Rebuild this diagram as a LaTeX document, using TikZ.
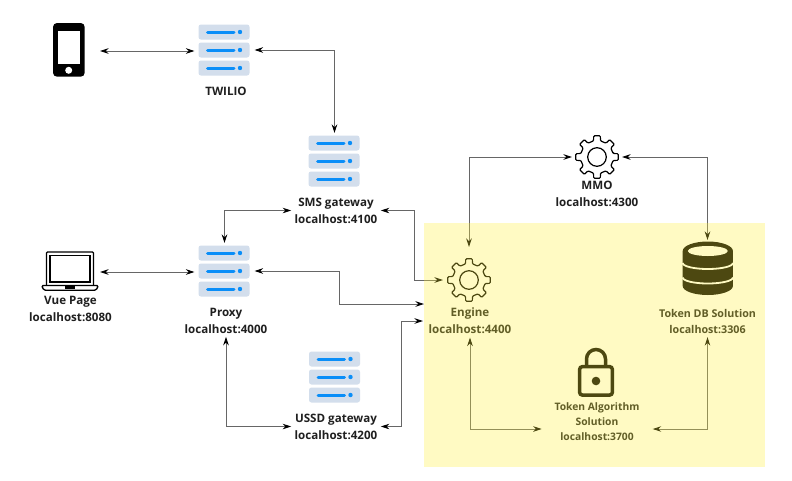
\documentclass[tikz,border=0pt]{standalone}
\usepackage{fontspec}
\setmainfont{Open Sans}
\usetikzlibrary{arrows.meta}
\definecolor{rackgrey}{HTML}{D3DEEC}
\definecolor{rackblue}{HTML}{0A8EF8}
\definecolor{zoneyellow}{RGB}{255,241,58}
\tikzset{
  pics/server/.style={
    code = {
        \foreach \r in {-18, 0, 18} {
            \fill [rackgrey, rounded corners=2.5pt] (-25.5, \r-7.5) rectangle (25.5, \r+7.5);
            \draw [rackblue, line width=3pt, line cap=round] (-16.5, \r) -- (10, \r);
            \fill [rackblue] (16, \r) circle (2.2);
        }
    }
  },
  pics/gear/.style={
    code = {
        \draw [line width=1.2pt, fill=white, rounded corners=1pt] (-12:16.5)
            \foreach \a in {0, 45, ..., 315} {
                -- (\a-12:16.5) -- (\a-9:21.5) -- (\a+9:21.5) -- (\a+12:16.5)
            } -- cycle;
        \draw [line width=1.2pt] (0, 0) circle (9.3);
    }
  },
  iconbox/.style={minimum width=#1, inner sep=0pt, outer sep=0pt},
  iconbox/.default=60pt,
  tag/.style={font=\fontsize{11.6}{17}\selectfont\bfseries, align=center, text=black!88},
  tagsmall/.style={font=\fontsize{10.3}{15}\selectfont\bfseries, align=center, text=black!88},
  link/.style={black!60, line width=0.9pt, {Stealth[length=8.5pt,width=5.5pt,black]}-{Stealth[length=8.5pt,width=5.5pt,black]}}
}

\begin{document}
\begin{tikzpicture}[x=1pt, y=-1pt]
            \useasboundingbox (0,0) rectangle (792,480);
            \fill [white] (0,0) rectangle (792,480);

            \node (phone) [iconbox=32pt, minimum height=54pt] at (69,50) {};
            \fill [black, rounded corners=4pt] (53,23) rectangle (84.7,76.7);
            \fill [white] (57.7,30.7) rectangle (80,64.3);
            \fill [white] (68.7,70.3) circle (3.5);
            \coordinate (phoneend) at (100,51);

            \node (laptop) [iconbox=58pt, minimum height=40pt] at (70,271) {};
            \draw [line width=1.3pt, rounded corners=1pt] (46.5,285) -- (46.5,252) -- (93.5,252) -- (93.5,285);
            \draw [line width=1.3pt] (50,255.5) rectangle (90,282);
            \draw [line width=1.3pt, rounded corners=1.5pt] (41.5,285.5) -- (98.5,285.5) -- (96,290.3) -- (44,290.3) -- cycle;
            \fill [black] (65,285.5) rectangle (75,289);
            \coordinate (laptopend) at (100,272);

            \pic at (224,50) {server};
            \node (twilio) [iconbox, minimum height=56pt] at (224.5,50) {};
            \node (twiliotag) [tag] at (226,91.5) {TWILIO};

            \pic at (334,161) {server};
            \node (sms) [iconbox, minimum height=56pt] at (334.5,161) {};
            \node (smstag) [tag] at (336,210.5) {SMS gateway\\localhost:4100};

            \pic at (224,271) {server};
            \node (proxy) [iconbox, minimum height=56pt] at (224.5,271) {};
            \node (proxytag) [tag] at (226,320.5) {Proxy\\localhost:4000};
            \node (vuetag) [tag] at (70.5,309) {Vue Page\\localhost:8080};

            \pic at (334.5,377) {server};
            \node (ussd) [iconbox, minimum height=56pt] at (334.5,377) {};
            \node (ussdtag) [tag] at (336,426.5) {USSD gateway\\localhost:4200};

            \pic at (597,157) {gear};
            \node (mmo) [iconbox=50pt, minimum height=50pt] at (597,157) {};
            \node (mmotag) [tag] at (597,193.5) {MMO\\localhost:4300};

            \pic at (469,280) {gear};
            \node (engine) [iconbox=52pt, minimum height=66pt] at (469,280) {};
            \node (enginetag) [tag] at (470,321) {Engine\\localhost:4400};

            \node (tokendb) [iconbox=50pt, minimum height=56pt] at (707.5,268) {};
            \fill [black] (682.7,251) arc [start angle=180, end angle=360, x radius=25.1, y radius=9.5]
                -- (732.9,286) arc [start angle=0, end angle=180, x radius=25.1, y radius=9] -- cycle;
            \fill [white] (707.8,251) ellipse [x radius=20, y radius=5];
            \draw [white, line width=1.8pt] (682.7,263) arc [start angle=180, end angle=0, x radius=25.1, y radius=6];
            \draw [white, line width=1.8pt] (682.7,277.5) arc [start angle=180, end angle=0, x radius=25.1, y radius=6];
            \node (tokendbtag) [tagsmall, font=\fontsize{10.7}{16}\selectfont\bfseries] at (707.5,321.5) {Token DB Solution\\localhost:3306};

            \node (tokenalgo) [iconbox=36pt, minimum height=48pt] at (596,373) {};
            \draw [line width=3.5pt] (586.5,366) -- (586.5,359) arc [start angle=180, end angle=360, radius=9.5] -- (605.5,366);
            \draw [line width=3.5pt, rounded corners=2.5pt] (579.7,366.7) rectangle (612.3,395);
            \fill [black] (596,381) circle (4.3);
            \node (tokenalgotag) [tagsmall] at (597,422) {Token Algorithm\\Solution\\localhost:3700};
            \coordinate (algoleft) at (541.7,429);
            \coordinate (algoright) at (652.7,429);

            \coordinate (bendsms) at (414,280);
            \coordinate (bendproxy) at (339,304);
            \coordinate (proxyin) at (424,304);
            \coordinate (bendussd) at (401,321);
            \coordinate (ussdin) at (423,321);

            \draw [link] (phoneend) -- (twilio.west |- phoneend);
            \draw [link] (twilio.east) -| (sms.north);
            \draw [link] (smstag.west) -| (proxy.north);
            \draw [link] (laptopend) -- (proxy.west |- laptopend);
            \draw [link] (smstag.east) -| (bendsms) -- (engine.west);
            \draw [link] (proxy.east) -| (bendproxy) -- (proxyin);
            \draw [link] (proxytag.south) |- (ussdtag.west);
            \draw [link] (ussdtag.east) -| (bendussd) -- (ussdin);
            \draw [link] (engine.north) |- (mmo.west);
            \draw [link] (mmo.east) -| (tokendb.north);
            \draw [link] (enginetag.south) |- (algoleft);
            \draw [link] (tokendbtag.south) |- (algoright);

            \node (zone) [fill=zoneyellow, fill opacity=0.3, inner sep=0pt, minimum width=341pt, minimum height=244pt] at (594.5,345) {};

        \end{tikzpicture}
\end{document}
